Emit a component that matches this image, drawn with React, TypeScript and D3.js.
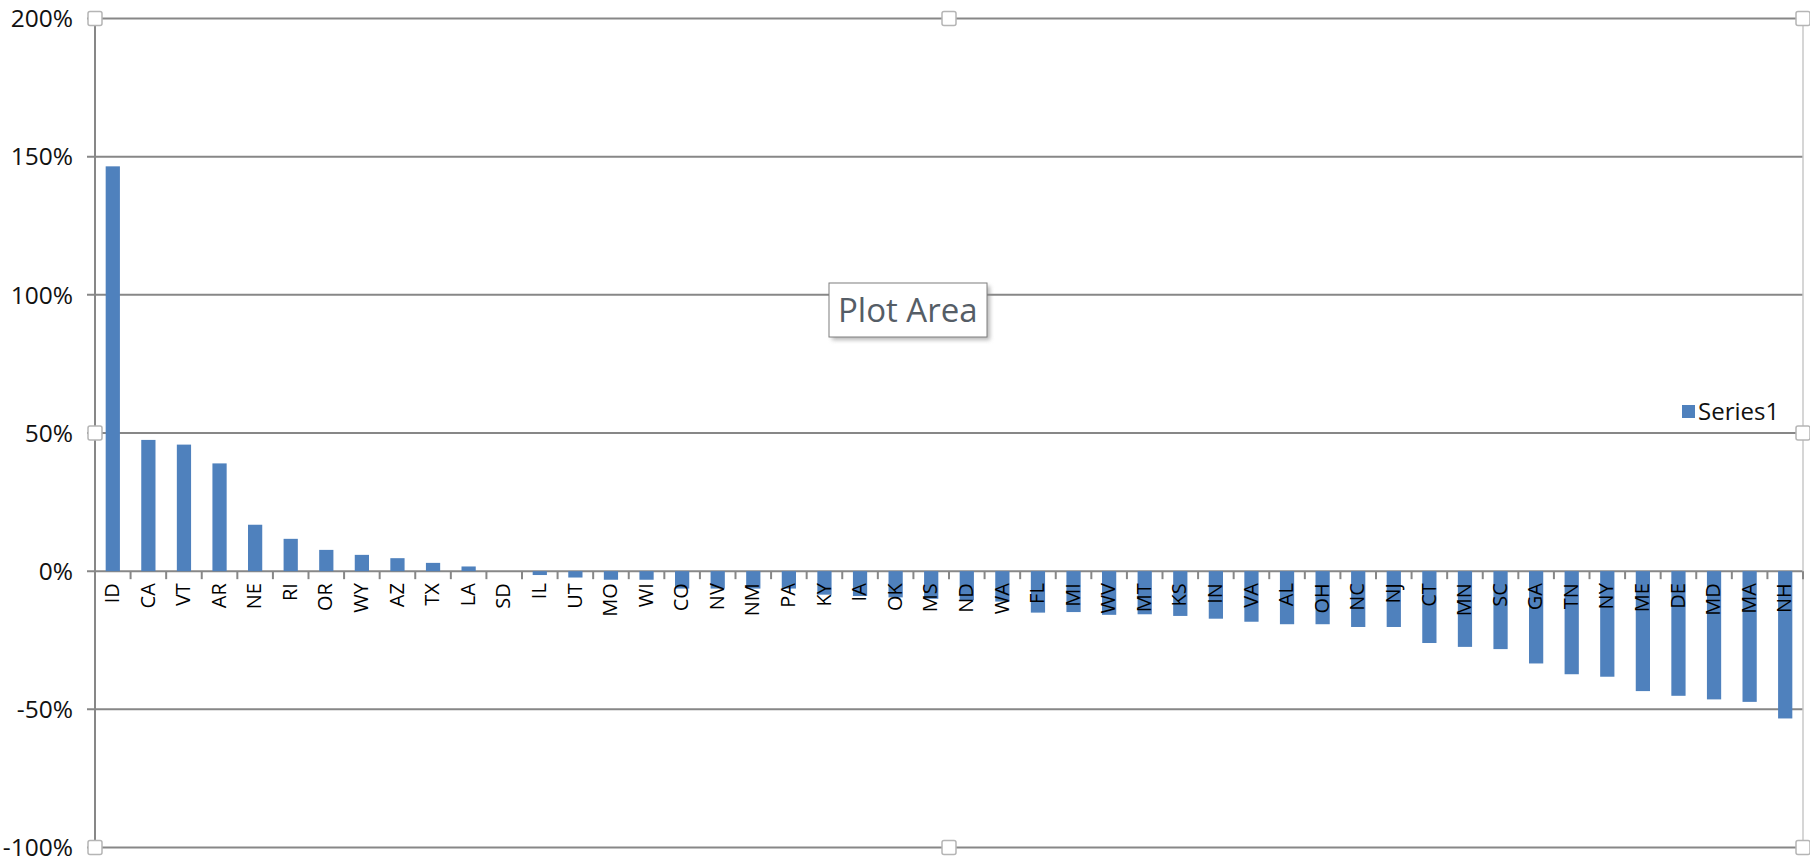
import React from "react";
import * as d3 from "d3";

const states: string[] = ["ID","CA","VT","AR","NE","RI","OR","WY","AZ","TX","LA","SD","IL","UT","MO","WI","CO","NV","NM","PA","KY","IA","OK","MS","ND","WA","FL","MI","WV","MT","KS","IN","VA","AL","OH","NC","NJ","CT","MN","SC","GA","TN","NY","ME","DE","MD","MA","NH"];
const series1: number[] = [1.465,0.475,0.458,0.39,0.168,0.117,0.077,0.059,0.047,0.03,0.017,0,-0.014,-0.023,-0.031,-0.031,-0.063,-0.063,-0.063,-0.063,-0.085,-0.09,-0.095,-0.1,-0.105,-0.11,-0.15,-0.148,-0.158,-0.156,-0.162,-0.172,-0.183,-0.192,-0.192,-0.202,-0.202,-0.26,-0.274,-0.282,-0.334,-0.373,-0.382,-0.434,-0.451,-0.464,-0.473,-0.533];
const yTicks: number[] = [-1, -0.5, 0, 0.5, 1, 1.5, 2];
const seriesName = "Series1";

const W = 1810, H = 865;
const left = 95, right = 1803, top = 18.5, bottom = 847.5;
const FONT = "'Open Sans', 'Noto Sans', sans-serif";
const GRID = "#878787";
const BAR = "#4f81bd";

export default function App() {
  const x = d3.scaleBand<string>().domain(states).range([left, right]).paddingInner(0.6).paddingOuter(0.3);
  const y = d3.scaleLinear().domain([-1, 2]).range([bottom, top]);
  const step = x.step();
  const y0 = y(0);
  const fmt = (v: number) => d3.format(".0%")(v).replace("\u2212", "-");
  const midX = (left + right) / 2;
  const midY = (top + bottom) / 2;
  const handles: [number, number][] = [
    [left, top], [midX, top], [right, top],
    [left, midY], [right, midY],
    [left, bottom], [midX, bottom], [right, bottom],
  ];
  return (
    <svg width={W} height={H} style={{ position: "absolute", left: 0, top: 0, background: "#fff" }} fontFamily={FONT}>
      <defs>
        <filter id="sh" x="-20%" y="-20%" width="150%" height="160%">
          <feGaussianBlur stdDeviation="2" />
        </filter>
      </defs>
      {/* gridlines */}
      {yTicks.map((t) => (
        <line key={"g" + t} x1={left - 8} x2={right} y1={y(t)} y2={y(t)} stroke={GRID} strokeWidth={2} />
      ))}
      {/* right border */}
      <line x1={right} x2={right} y1={top} y2={bottom} stroke="#c8c8c8" strokeWidth={1.5} />
      {/* y labels */}
      {yTicks.map((t) => (
        <text key={"yl" + t} x={73} y={y(t)} dy="0.36em" textAnchor="end" fontSize={24.5} fill="#111">{fmt(t)}</text>
      ))}
      {/* bars */}
      {states.map((s, i) => {
        const v = series1[i];
        const yy = y(Math.max(v, 0));
        const h = Math.abs(y(v) - y0);
        return <rect key={s} x={x(s)!} y={yy} width={x.bandwidth()} height={h} fill={BAR} />;
      })}
      {/* y axis line */}
      <line x1={left} x2={left} y1={top} y2={bottom} stroke={GRID} strokeWidth={2} />
      {/* category ticks */}
      {d3.range(states.length + 1).map((i) => (
        <line key={"t" + i} x1={left + i * step} x2={left + i * step} y1={y0} y2={y0 + 8} stroke={GRID} strokeWidth={2} />
      ))}
      {/* category labels */}
      {states.map((s) => (
        <text key={"c" + s} transform={`translate(${x(s)! + x.bandwidth() / 2 - 1},${y0 + 12}) rotate(-90)`} dy="0.36em" textAnchor="end" fontSize={20} fill="#000">{s}</text>
      ))}
      {/* legend */}
      <rect x={1682} y={405} width={13} height={13} fill={BAR} />
      <text x={1698} y={420} fontSize={24} fill="#111">{seriesName}</text>
      {/* plot area tooltip */}
      <rect x={832} y={286} width={158} height={54} fill="#888" opacity={0.6} filter="url(#sh)" />
      <rect x={829} y={283} width={158} height={54} fill="#fff" stroke="#7f7f7f" strokeWidth={1} />
      <text x={838} y={322} fontSize={33} fill="#555d66">Plot Area</text>
      {/* selection handles */}
      {handles.map(([hx, hy], i) => (
        <rect key={"h" + i} x={hx - 7} y={hy - 7} width={14} height={14} rx={2} fill="#fff" stroke="#b5b5b5" strokeWidth={1.5} />
      ))}
    </svg>
  );
}
